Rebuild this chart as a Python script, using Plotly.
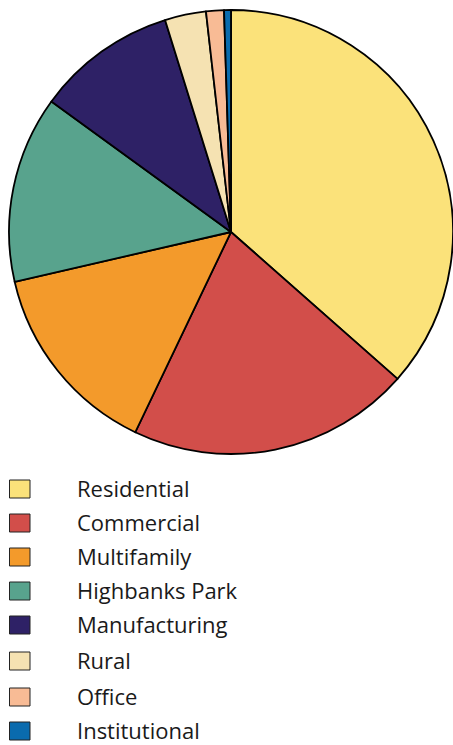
import plotly.graph_objects as go

categories = ["Residential", "Commercial", "Multifamily", "Highbanks Park",
              "Manufacturing", "Rural", "Office", "Institutional"]
values = [36.5, 20.6, 14.3, 13.6, 10.2, 3.0, 1.3, 0.5]
colors = ["#FBE27A", "#D24E4A", "#F39A2B", "#58A38D",
          "#2E2166", "#F5E2B2", "#F8BB95", "#0A6BAE"]

W, H = 453, 745

fig = go.Figure(go.Pie(
    labels=categories, values=values, sort=False, direction="clockwise",
    rotation=0, textinfo="none", hoverinfo="label+percent",
    marker=dict(colors=colors, line=dict(color="#000000", width=1.8)),
    domain=dict(x=[9 / W, 1.0], y=[1 - 455 / H, 1 - 9 / H]),
    showlegend=False,
))

# custom legend
row_y = [489, 523, 557, 591, 625, 661, 697, 731]
shapes = []
annotations = []
for cat, col, yc in zip(categories, colors, row_y):
    shapes.append(dict(type="rect", xref="paper", yref="paper",
                       x0=9.5 / W, x1=30 / W,
                       y0=1 - (yc + 9) / H, y1=1 - (yc - 9) / H,
                       fillcolor=col, line=dict(color="#222222", width=1)))
    annotations.append(dict(text=cat, xref="paper", yref="paper",
                            x=76 / W, y=1 - (yc - 1) / H, xanchor="left", yanchor="middle",
                            showarrow=False, borderpad=0,
                            font=dict(family="Open Sans", size=22, color="#1a1a1a")))

fig.update_layout(width=W, height=H, margin=dict(l=0, r=0, t=0, b=0),
                  paper_bgcolor="white", plot_bgcolor="white",
                  shapes=shapes, annotations=annotations)

fig.write_html("out.html")
